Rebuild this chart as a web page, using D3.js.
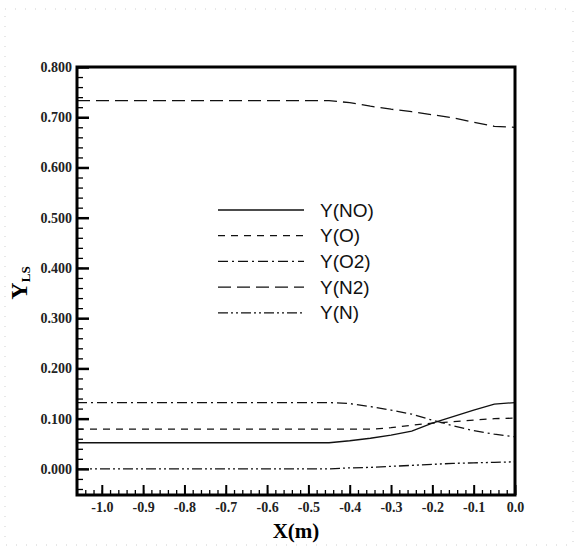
<!DOCTYPE html>
<html>
<head>
<meta charset="utf-8">
<script src="https://cdn.jsdelivr.net/npm/d3@7"></script>
<style>
  body { margin: 0; background: #fff; }
  svg { display: block; }
</style>
</head>
<body>
<script>
// values
var xVals  = [-1.06, -0.45, -0.40, -0.35, -0.30, -0.25, -0.20, -0.15, -0.10, -0.05, 0.00];
var yNO    = [0.052, 0.052, 0.056, 0.061, 0.067, 0.075, 0.091, 0.104, 0.117, 0.129, 0.132];
var yO     = [0.079, 0.079, 0.079, 0.079, 0.082, 0.087, 0.091, 0.094, 0.097, 0.100, 0.101];
var yO2    = [0.132, 0.132, 0.130, 0.124, 0.117, 0.109, 0.097, 0.086, 0.076, 0.069, 0.064];
var yN2    = [0.733, 0.733, 0.729, 0.722, 0.716, 0.711, 0.705, 0.699, 0.690, 0.682, 0.680];
var yN     = [0.000, 0.000, 0.002, 0.003, 0.005, 0.007, 0.009, 0.011, 0.012, 0.013, 0.014];

var seriesNames = ["Y(NO)", "Y(O)", "Y(O2)", "Y(N2)", "Y(N)"];
var seriesVals  = [yNO, yO, yO2, yN2, yN];
var dashes = ["none", "7,6", "10,4,2,4", "13,6", "10,3,2,3,2,3"];

var xMajor = d3.range(-10, 1).map(d => d / 10);
var yMajor = d3.range(0, 9).map(d => d / 10);

var W = 576, H = 549;
var pL = 77, pR = 515, pT = 67, pB = 495;

var svg = d3.select("body").append("svg")
	.attr("width", W)
	.attr("height", H);

svg.append("rect")
	.attr("width", W).attr("height", H)
	.style("fill", "#fff");

// faint dotted page border
svg.append("rect")
	.attr("x", 5).attr("y", 9)
	.attr("width", W - 8).attr("height", H - 13)
	.style("fill", "none")
	.style("stroke", "#cfcfcf")
	.style("stroke-width", 1)
	.style("stroke-dasharray", "1,9");

var x = d3.scaleLinear().domain([-1.06, 0]).range([pL, pR]);
var y = d3.scaleLinear().domain([-0.052, 0.8]).range([pB, pT]);

var serif = "'Liberation Serif', 'Times New Roman', serif";
var sans = "'Liberation Sans', Arial, sans-serif";

// minor ticks
var xMinor = d3.range(-53, 1).map(d => d / 50).filter(d => d >= -1.06 - 1e-9);
var yMinor = d3.range(-2, 41).map(d => d / 50);

svg.append("g")
	.attr("transform", `translate(0,${pB})`)
	.call(d3.axisBottom(x).tickValues(xMinor).tickSize(-5).tickFormat(""))
	.call(g => g.select(".domain").remove())
	.selectAll("line").style("stroke", "#000").style("stroke-width", 1.3);

svg.append("g")
	.attr("transform", `translate(${pL},0)`)
	.call(d3.axisLeft(y).tickValues(yMinor).tickSize(-6).tickFormat(""))
	.call(g => g.select(".domain").remove())
	.selectAll("line").style("stroke", "#000").style("stroke-width", 1.3);

// major ticks + labels
var xAxis = svg.append("g")
	.attr("transform", `translate(0,${pB})`)
	.call(d3.axisBottom(x).tickValues(xMajor).tickSize(-10).tickPadding(7)
		.tickFormat(d => Math.abs(d) < 1e-9 ? "0.0" : d.toFixed(1)));
xAxis.select(".domain").remove();
xAxis.selectAll("line").style("stroke", "#000").style("stroke-width", 2);
xAxis.selectAll("text")
	.style("font-family", serif)
	.style("font-size", "14px")
	.style("font-weight", "bold")
	.style("fill", "#222");

var yAxis = svg.append("g")
	.attr("transform", `translate(${pL},0)`)
	.call(d3.axisLeft(y).tickValues(yMajor).tickSize(-12).tickPadding(5)
		.tickFormat(d3.format(".3f")));
yAxis.select(".domain").remove();
yAxis.selectAll("line").style("stroke", "#000").style("stroke-width", 2.5);
yAxis.selectAll("text")
	.attr("x", -5)
	.style("font-family", serif)
	.style("font-size", "14px")
	.style("font-weight", "bold")
	.style("fill", "#222");

// curves
var line = d3.line()
	.x((d, i) => x(xVals[i]))
	.y(d => y(d));

svg.selectAll(".curve")
	.data(seriesVals)
	.enter().append("path")
	.attr("class", "curve")
	.attr("d", d => line(d))
	.style("fill", "none")
	.style("stroke", "#111")
	.style("stroke-width", 1.3)
	.style("stroke-dasharray", (d, i) => dashes[i]);

// frame
svg.append("rect")
	.attr("x", pL).attr("y", pT)
	.attr("width", pR - pL).attr("height", pB - pT)
	.style("fill", "none")
	.style("stroke", "#000")
	.style("stroke-width", 3);

// legend
var legend = svg.append("g");
var rows = legend.selectAll(".row")
	.data(seriesNames)
	.enter().append("g")
	.attr("class", "row")
	.attr("transform", (d, i) => `translate(218,${210 + i * 25.7})`);

rows.append("line")
	.attr("x1", 0).attr("x2", 86)
	.style("stroke", "#111")
	.style("stroke-width", 1.3)
	.style("stroke-dasharray", (d, i) => dashes[i]);

rows.append("text")
	.attr("x", 102)
	.attr("dy", "0.35em")
	.text(d => d)
	.style("font-family", sans)
	.style("font-size", "19px")
	.style("fill", "#111");

// axis titles
svg.append("text")
	.attr("x", 296)
	.attr("y", 538)
	.attr("text-anchor", "middle")
	.style("font-family", serif)
	.style("font-size", "21px")
	.style("font-weight", "bold")
	.text("X(m)");

var ylab = svg.append("text")
	.attr("transform", "translate(27,283) rotate(-90)")
	.attr("text-anchor", "middle")
	.style("font-family", serif)
	.style("font-weight", "bold")
	.style("font-size", "24px");
ylab.append("tspan").text("Y");
ylab.append("tspan")
	.attr("dy", "0.25em")
	.style("font-size", "13px")
	.text("LS");
</script>
</body>
</html>
